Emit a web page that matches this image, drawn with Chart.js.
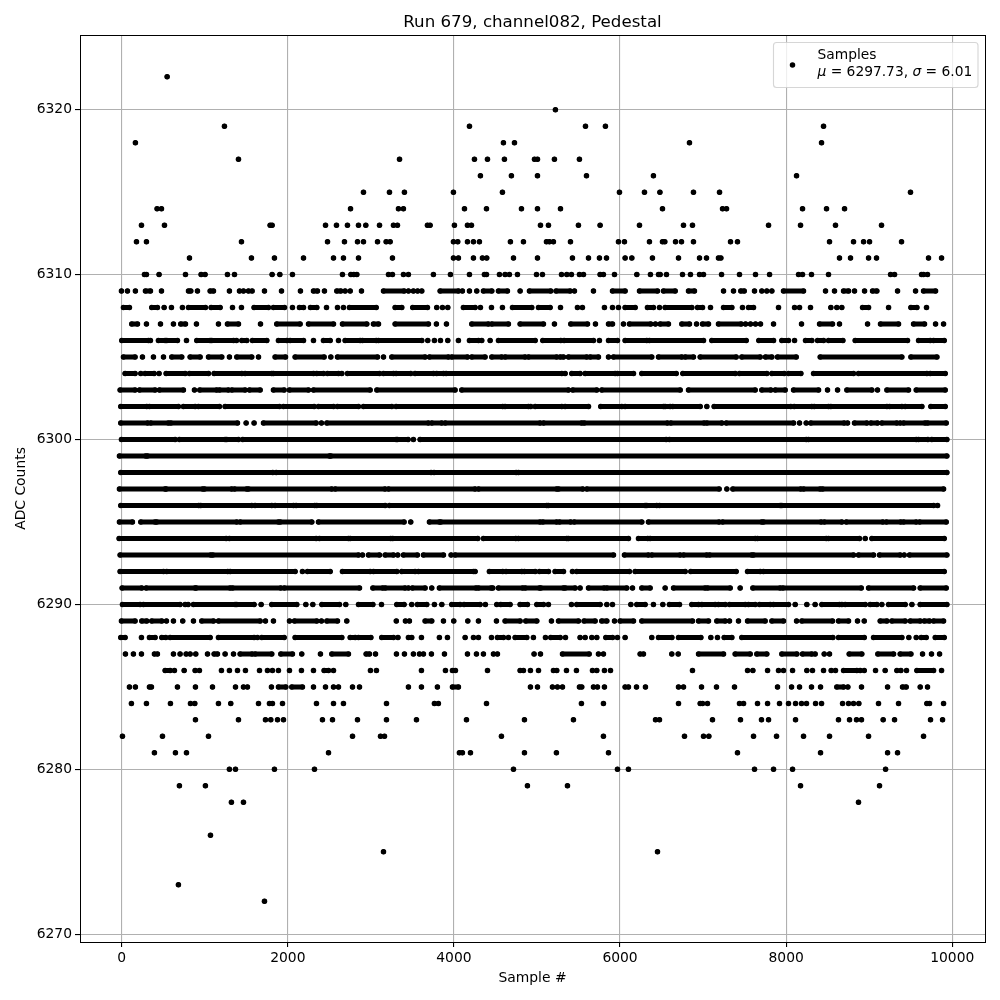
<!DOCTYPE html>
<html><head><meta charset="utf-8">
<script src="https://cdn.jsdelivr.net/npm/chart.js@4/dist/chart.umd.js"></script>
<style>html,body{margin:0;padding:0;background:#fff}#w{width:1000px;height:1000px}</style>
</head><body><div id="w"><canvas id="c" width="1000" height="1000"></canvas></div>
<script>
const chartTitle = "Run 679, channel082, Pedestal";
const xLabel = "Sample #";
const yLabel = "ADC Counts";
const xTicks = [0,2000,4000,6000,8000,10000];
const yTicks = [6270,6280,6290,6300,6310,6320];
// Each level lists the sample numbers seen at that ADC value: a number is one sample, [a,b] an unbroken run of overlapping samples.
const s6322=[547];
const s6320=[5222];
const s6319=[1237,4187,5584,5824,8450];
const s6318=[165,4596,4729,6836,8426];
const s6317=[1406,3345,4247,4404,4608,4970,5006,5210,5511];
const s6316=[4319,4692,5006,5596,6402,8125];
const s6315=[2911,3224,3404,3994,4584,5993,6294,6480,6884,7198,9497];
const s6314=[426,479,2755,3332,3392,4127,4392,4813,5006,5283,6511,7234,7282,8197,8486,8703];
const s6313=[238,515,1787,1811,2454,2586,2718,2851,2939,3104,3272,3320,3681,3713,4006,4163,4211,5042,5138,5499,5760,6234,6764,6872,7788,8173,8594,9148];
const s6312=[178,298,1442,2478,2682,2839,2911,3080,3184,3232,3994,4046,4163,4235,4307,4680,4837,5114,5150,5198,5403,5981,6053,6354,6511,6539,6668,6740,6884,7330,7414,8522,8811,8932,9004,9389];
const s6311=[816,1562,1839,2189,2550,2670,2851,3260,3994,4054,4235,4343,4395,4717,5006,5427,5620,5752,5837,6061,6142,6390,6704,6957,7041,7185,7214,8642,8775,8992,9088,9714,9871];
const s6310=[274,298,450,768,956,1004,1273,1358,1811,1904,2056,2658,2759,2795,2831,3212,3260,3392,3452,3753,3958,4187,4367,4392,4548,4616,4668,4765,4994,5066,5295,5359,5415,5511,5560,5760,5800,5933,6202,6366,6463,6483,6559,6752,6848,6957,7005,7222,7438,7631,7800,8149,8197,8305,8510,9257,9305,9630,9654,9702];
const s6309=[-3,69,165,[286,346],479,[804,832],912,[1065,1105],1297,1418,1466,1526,1570,1719,1924,2152,[2309,2357],2441,[2590,2638],2690,2751,2887,[3152,3400],3452,3512,3563,3613,[3834,4054],4102,4187,4275,[4355,4456],[4536,4644],4797,[4909,5166],[5230,5399],5451,5680,[5909,6061],[6234,6451],[6523,6664],[6824,6896],7246,7366,[7454,7495],7619,7707,7767,7828,[7968,8209],8474,8582,[8691,8751],8823,8944,[9040,9092],9341,9558,[9654,9799]];
const s6308=[[21,93],[362,430],511,599,731,[804,1008],[1077,1185],1334,1442,[1594,1767],[1827,1960],2056,[2140,2189],[2273,2349],2466,2598,2670,[2742,3064],[3292,3372],[3504,3681],3793,3862,3926,[4114,4255],4319,4452,4584,[4705,4937],[5018,5158],5283,5487,5547,5812,5909,5981,[6061,6182],[6330,6402],6475,[6543,6864],[6933,6993],7089,[7246,7346],7474,[7547,7607],7908,8101,8161,8293,8538,8610,8670,[8920,8992],9233,[9502,9574],9690];
const s6307=[[121,190],298,467,623,[711,768],900,1165,[1273,1406],1671,[1867,2148],[2249,2550],[2658,2951],[3031,3092],[3292,3693],3789,3910,[4215,4415],[4456,4656],[4797,5078],5210,[5407,5608],5704,[5861,5909],6041,[6113,6370],6426,[6483,6583],[6744,6836],6921,[6993,7065],[7185,7458],7511,7571,7631,7691,7848,8185,[8402,8558],8642,8980,[9136,9353],[9534,9666],9799,9895];
const s6306=[[1,322],346,[442,523],[543,671],780,[904,1065],[1085,1346],1382,[1446,1506],[1574,1747],[1887,1988],[2028,2189],2309,[2429,2510],2610,[2690,2871],[2899,3064],[3092,3613],3685,3765,3838,3926,4054,[4187,4295],4335,4436,[4536,4978],[5070,5287],[5327,5680],5752,[5861,5969],[6061,6322],[6354,7005],[7105,7519],[7671,7848],[7948,8028],8101,[8233,8309],[8378,8450],[8510,8683],[8831,9461],[9594,9734],[9775,9903]];
const s6305=[[21,161],250,382,503,[603,723],[824,944],[1045,1205],1297,[1386,1566],1647,[1847,1972],[2088,2437],2518,[2598,3080],3152,[3252,3653],[3705,3934],[3974,4163],[4215,4375],[4456,4576],[4616,4857],[4897,5238],[5279,5319],[5379,5600],[5640,5740],5861,[5921,6382],[6463,6744],[6784,6884],[6965,7398],[7466,7687],[7751,7828],[7896,8121],[8410,9393],[9502,9815]];
const s6304=[[41,161],230,[282,390],450,[535,764],[816,1045],[1113,1446],[1486,1807],[1827,2309],[2349,2429],[2478,2610],2650,[2718,3104],[3152,3272],[3304,3480],[3532,3753],[3793,3874],[3906,5299],5339,[5419,5519],[5580,5941],[5969,6162],[6262,6676],[6756,7386],[7438,7767],[7828,7976],[8028,8177],[8330,8811],[8871,9694],[9734,9915]];
const s6303=[[-19,161],[214,402],[454,743],876,[940,1145],[1177,1285],[1326,1486],[1538,1667],[1827,1956],[2020,2249],[2309,2991],[3072,4014],[4094,5379],[5431,5720],[5780,6724],[6824,7627],[7707,7816],[7868,7988],[8089,8390],8498,8619,[8731,9032],9100,[9213,9473],[9566,9915]];
const s6302=[[-11,302],[334,683],[743,884],[924,1177],[1245,1900],[1948,2317],[2369,2550],[2598,2851],[2911,3252],[3304,4588],[4616,4897],4925,[4978,5299],[5339,5620],[5768,6021],[6061,6523],[6543,6603],[6635,6965],7045,[7133,8056],[8097,8309],[8338,8510],[8538,9213],[9245,9393],[9433,9634],[9742,9915]];
const s6301=[[-11,314],[350,563],[591,1394],1498,1594,[1707,2341],2405,[2470,3693],[3733,3854],[3894,5038],[5078,5539],[5567,6571],[6611,7013],[7045,7226],[7278,8089],8161,8241,[8297,8699],8739,[8823,8972],[9020,9100],[9152,9333],9373,[9413,9674],[9702,9927]];
const s6300=[[-3,643],[695,1245],[1265,1406],[1458,3304],[3320,3448],3512,[3593,6555],[6595,8241],[8269,9566],[9594,9706],[9754,9935]];
const s6299=[[-27,290],[310,2502],[2518,9935]];
const s6298=[[-11,1819],[1860,3725],[3761,4749],[4777,9935]];
const s6297=[[-27,523],[535,976],[996,1326],[1358,1506],[1526,2530],[2570,3171],[3211,4255],[4295,5238],[5259,5552],[5600,7193],7286,[7358,8177],[8209,8410],[8438,9895]];
const s6296=[[-11,928],[952,1566],[1606,1807],[1847,2068],[2100,2325],[2349,3172],[3223,5118],[5138,6302],[6322,6442],[6475,7928],[7948,9775],9823];
const s6295=[[-27,129],[230,402],[422,1386],[1426,1887],[1908,2289],[2369,3400],3480,[3705,3825],[3842,5038],[5070,5238],[5270,5407],[5447,6262],[6342,7193],[7234,7707],[7727,8422],[8458,8671],[8723,9165],[9205,9381],[9413,9566],[9606,9927]];
const s6294=[[-31,1257],[1297,2341],[2381,2730],[2751,3239],[3264,4287],[4355,4745],[4777,5359],[5379,6101],[6222,6334],[6362,7627],[7655,8482],[8510,8883],8952,[9032,9903]];
const s6293=[[-19,1073],[1097,2851],2899,[2971,3104],[3172,3272],3324,[3392,3560],[3633,3874],3966,[4014,5921],[6053,6342],[6382,6724],[6764,7045],[7077,7587],[7607,8811],[8871,9052],[9124,9373],9421,[9485,9935]];
const s6292=[[-19,503],[543,1277],[1306,2088],2176,[2237,2510],[2658,2991],[3032,3312],[3372,3532],[3573,4235],4255,[4427,4588],[4628,4817],[4849,4978],[5030,5138],[5218,5319],5427,[5479,6113],[6182,6784],[6852,7398],[7535,7687],[7727,9903]];
const s6291=[[5,242],[294,884],[896,1306],[1334,1916],[1956,2863],[3024,3144],[3172,3412],3452,[3500,3653],3733,[3825,4267],[4295,4448],4468,[4536,4829],[4857,5030],[5046,5319],[5339,5459],5519,[5620,5809],[5841,6081],6150,[6262,6362],6543,[6644,7025],[7053,7326],7446,[7599,7928],[7960,8904],[8992,9534],[9614,9927]];
const s6290=[[9,221],[262,703],[764,800],[864,1366],[1386,1594],1679,[1807,2108],2217,2301,[2410,2622],2698,[2851,3024],3128,[3312,3400],3492,[3560,3673],3765,3854,[3974,4074],[4122,4315],4379,4516,[4564,4676],[4797,4885],[4998,5078],5138,5415,[5479,5760],5841,5909,6130,[6202,6302],6402,6515,[6595,6716],[6864,6945],[6985,7145],[7185,7266],[7318,7507],[7547,7627],[7679,7808],[7848,8028],8109,8249,8349,[8430,8642],8671,[8711,8952],[9012,9092],9152,[9233,9433],9514,[9614,9935]];
const s6289=[[-3,161],[242,302],[362,483],539,623,735,864,[964,1105],[1165,1667],1731,1827,2020,[2080,2349],2405,[2470,2598],2710,3306,3416,3464,[3653,3733],3874,3998,4167,4295,4512,[4616,4797],[4865,4998],5174,[5259,5499],[5567,5700],[5780,5841],5933,[6001,6162],[6262,6872],[6945,7065],[7165,7266],7318,7426,[7535,7747],[7828,7968],8125,[8189,8558],[8630,8751],8859,8940,[9132,9213],[9273,9433],[9494,9614],[9662,9726],[9775,9895]];
const s6288=[[-11,41],238,[334,402],[483,531],[583,1065],[1165,1594],1635,[1687,1956],[2088,2650],[2751,2811],[2851,3000],[3131,3272],3326,[3452,3492],3609,3825,3922,4135,4235,4295,4452,[4524,4596],4656,[4737,4877],4957,5102,[5166,5279],5343,5519,5580,5660,5720,[5829,5909],5969,6061,6382,[6463,6624],[6704,6973],7093,7173,[7254,7346],[7466,8562],[8630,8940],[9052,9393],9477,9566,[9626,9686],[9795,9903]];
const s6287=[45,141,238,394,430,623,703,776,824,892,1033,[1113,1153],1245,1346,[1426,1570],[1606,1807],[1916,2056],2168,2393,[2530,2730],[2943,2983],3056,3308,3404,3512,3585,3633,3729,3886,4163,4271,4355,4476,4524,4965,5042,[5307,5628],5740,5800,6242,6282,6623,6700,[6945,7246],[7386,7567],[7647,7767],[7948,8129],[8197,8309],8349,8458,8522,[8759,8911],[9104,9293],[9373,9502],9642,9750,9847];
const s6286=[[523,583],635,752,884,936,1201,1297,1394,1490,1659,1755,1815,1887,2020,2164,2309,[2437,2490],2550,2995,3067,3609,3898,3982,4018,4404,4797,4837,4921,5018,5198,5238,5355,5475,5668,5720,5812,5885,6872,7535,7599,7776,7908,7968,8077,8249,8317,8450,8542,8594,[8691,8851],8891,8940,9076,9192,9333,9381,9449,[9574,9775],9871];
const s6285=[93,165,334,358,671,888,1093,1370,1466,1514,1803,[1887,1976],[2048,2176],2309,2454,2550,2610,2779,2863,3452,3609,3801,[3982,4054],4921,5006,5186,5246,5307,5511,5539,5680,5728,5812,6061,6101,6198,6306,6704,6764,6981,7161,7378,7896,8065,8161,8305,8414,[8610,8691],8743,8907,9221,[9401,9445],9614,9702];
const s6284=[117,298,587,828,880,1165,1313,1647,1779,1815,1936,2345,2550,2670,3188,3765,3813,4392,5535,5800,6704,6965,6993,7053,7438,7487,7655,7776,7920,8028,8113,8185,8245,8354,8426,8679,8751,8811,8875,9112,9353,9694,9726,9895];
const s6283=[888,1406,1731,1795,1876,1948,2417,2538,2839,3188,3549,4151,4849,5439,6427,6475,7113,7450,7703,7788,8113,8630,8763,8847,8907,9168,9305,9738,9883];
const s6282=[9,491,1045,2779,3116,3164,4572,5800,6776,7005,7069,7607,7884,8209,8522,8992,9654];
const s6281=[394,647,780,2490,4066,4102,4199,4849,5234,5861,7414,8414,9221,9341];
const s6280=[1297,1370,1839,2321,4717,5969,6101,7619,7848,8077,9197];
const s6279=[695,1008,4885,5367,8173,9124];
const s6278=[1321,1466,8871];
const s6276=[1069];
const s6275=[3152,6451];
const s6273=[683];
const s6272=[1719];
const rows=[[6322,s6322],[6320,s6320],[6319,s6319],[6318,s6318],[6317,s6317],[6316,s6316],[6315,s6315],[6314,s6314],[6313,s6313],[6312,s6312],[6311,s6311],[6310,s6310],[6309,s6309],[6308,s6308],[6307,s6307],[6306,s6306],[6305,s6305],[6304,s6304],[6303,s6303],[6302,s6302],[6301,s6301],[6300,s6300],[6299,s6299],[6298,s6298],[6297,s6297],[6296,s6296],[6295,s6295],[6294,s6294],[6293,s6293],[6292,s6292],[6291,s6291],[6290,s6290],[6289,s6289],[6288,s6288],[6287,s6287],[6286,s6286],[6285,s6285],[6284,s6284],[6283,s6283],[6282,s6282],[6281,s6281],[6280,s6280],[6279,s6279],[6278,s6278],[6276,s6276],[6275,s6275],[6273,s6273],[6272,s6272]];

const FONT='"DejaVu Sans"';
const datasets=rows.map(([y,list],i)=>{
  const data=[];
  list.forEach(e=>{
    if(Array.isArray(e)){data.push({x:e[0],y},{x:e[1],y},{x:e[1],y:null});}
    else{data.push({x:e,y},{x:e,y:null});}
  });
  return {label:i===0?'Samples':'ADC '+y,data,showLine:true,spanGaps:false,borderColor:'#000',backgroundColor:'#000',
    borderWidth:5,borderCapStyle:'round',pointRadius:2.75,pointBorderWidth:0,pointHoverRadius:2.75,tension:0};
});
const frameAndLegend={id:'frameAndLegend',afterDraw(chart){
  const {ctx,chartArea:a}=chart;
  ctx.save();
  ctx.strokeStyle='#000';ctx.lineWidth=1;
  ctx.strokeRect(Math.round(a.left)+0.5,Math.round(a.top)+0.5,Math.round(a.right-a.left),Math.round(a.bottom-a.top));
  const bx=773.5,by=42.5,bw=204.5,bh=45,r=3;
  ctx.beginPath();ctx.roundRect(bx,by,bw,bh,r);
  ctx.fillStyle='rgba(255,255,255,0.8)';ctx.fill();
  ctx.strokeStyle='rgba(204,204,204,0.8)';ctx.lineWidth=1.1;ctx.stroke();
  ctx.fillStyle='#000';ctx.beginPath();ctx.arc(792.5,65,2.75,0,Math.PI*2);ctx.fill();
  ctx.textBaseline='alphabetic';ctx.textAlign='left';
  const reg='13.8px '+FONT, ita='italic 13.8px '+FONT;
  ctx.font=reg;ctx.fillText('Samples',817.5,59);
  let x=817.5;
  [['μ',ita],[' = 6297.73, ',reg],['σ',ita],[' = 6.01',reg]].forEach(([t,f])=>{
    ctx.font=f;ctx.fillText(t,x,76);x+=ctx.measureText(t).width;
  });
  ctx.restore();
}};
new Chart(document.getElementById('c'),{
  type:'scatter',
  data:{datasets},
  plugins:[frameAndLegend],
  options:{
    responsive:false,animation:false,normalized:true,
    layout:{padding:{left:0,right:15,top:0,bottom:0}},
    events:[],
    plugins:{
      legend:{display:false},tooltip:{enabled:false},
      title:{display:true,text:chartTitle,color:'#000',fullSize:false,font:{family:FONT,size:16.67,weight:'normal',lineHeight:1},padding:{top:14,bottom:4.33}}
    },
    scales:{
      x:{type:'linear',min:-502,max:10394,
        afterBuildTicks(s){s.ticks=xTicks.map(value=>({value}));},
        afterFit(s){s.height=58;},
        grid:{color:'#b0b0b0',lineWidth:1.1,tickColor:'#000',tickLength:5,tickWidth:1.1},
        border:{display:false},
        ticks:{color:'#000',padding:3.5,maxRotation:0,autoSkip:false,font:{family:FONT,size:13.89},callback:v=>String(v)},
        title:{display:true,text:xLabel,color:'#000',font:{family:FONT,size:13.89,lineHeight:1},padding:{top:0,bottom:15}}
      },
      y:{type:'linear',min:6269.53,max:6324.53,
        afterBuildTicks(s){s.ticks=yTicks.map(value=>({value}));},
        afterFit(s){s.width=80;},
        grid:{color:'#b0b0b0',lineWidth:1.1,tickColor:'#000',tickLength:5,tickWidth:1.1},
        border:{display:false},
        ticks:{color:'#000',padding:3,autoSkip:false,font:{family:FONT,size:13.89},callback:v=>String(v)},
        title:{display:true,text:yLabel,color:'#000',font:{family:FONT,size:13.89,lineHeight:1},padding:{top:14,bottom:0}}
      }
    }
  }
});
</script></body></html>
